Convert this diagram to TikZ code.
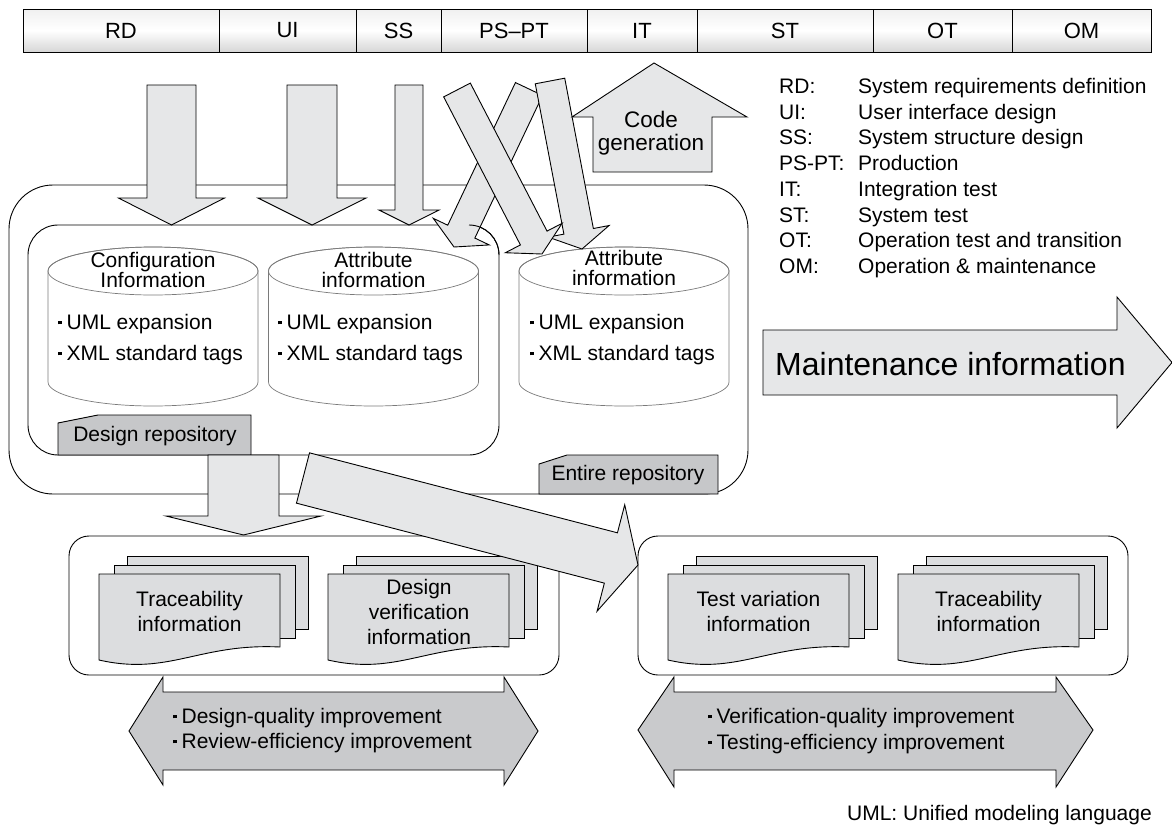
\documentclass[tikz,border=0pt]{standalone}
\usepackage{fontspec}
\setmainfont{Liberation Sans}
\usetikzlibrary{calc}
\definecolor{arrfill}{HTML}{E6E7E8}
\definecolor{docfill}{HTML}{DCDDDF}
\definecolor{tagfill}{HTML}{C6C7C9}
\definecolor{dblfill}{HTML}{C9CACC}
\definecolor{cylline}{HTML}{7A7A7A}
\newcommand{\fsz}[2]{\fontsize{#1}{#2}\selectfont}
\newcommand{\bul}{\raisebox{5pt}{\rule{3.4pt}{3.4pt}}\hspace{5pt}}
% fat block arrow: tail, tip, half shaft, half head, head length
\newcommand{\fatarrow}[5]{%
  \coordinate (#2-h) at ($(#2)!#5!(#1)$);
  \path[blk] ($(#1)!#3!90:(#2)$) -- ($(#2-h)!#3!90:(#2)$) -- ($(#2-h)!#4!90:(#2)$) -- (#2)
    -- ($(#2-h)!#4!-90:(#2)$) -- ($(#2-h)!#3!-90:(#2)$) -- ($(#1)!#3!-90:(#2)$) -- cycle;}
\newcommand{\cylshape}[2]{%
  \coordinate (#2) at (#1,271);
  \path[cyl] ($(#2)+(-105,0)$) -- ++(0,111)
     arc[start angle=180,end angle=360,x radius=105pt,y radius=24pt]
     -- ($(#2)+(105,0)$)
     arc[start angle=0,end angle=180,x radius=105pt,y radius=24pt] -- cycle;
  \draw[cylline,line width=0.7pt] (#2) ellipse[x radius=105pt,y radius=24pt];}
\newcommand{\docstack}[2]{%
  \draw[doc] (#1+28,556) rectangle (#1+209,629);
  \draw[doc] (#1+15,565) rectangle (#1+196,638);
  \draw[doc] (#1,574) -- (#1+181,574) -- (#1+181,647)
     .. controls (#1+100,643) and (#1+70,676) .. (#1,660) -- cycle;
  \coordinate (#2) at (#1+90.5,611);}
\begin{document}
\begin{tikzpicture}[x=1pt,y=-1pt,
  every node/.style={inner sep=0pt},
  blk/.style={draw=black,line width=0.9pt,fill=arrfill,line join=miter},
  cyl/.style={draw=cylline,line width=0.7pt,fill=white},
  doc/.style={draw=black,line width=0.9pt,fill=docfill},
  tag/.style={draw=black,line width=0.9pt,fill=tagfill},
  box/.style={draw=black,line width=0.9pt,rounded corners=20pt},
  cell/.style={draw=black,line width=0.9pt,top color=gray!12,bottom color=gray!32,middle color=white,minimum height=43pt,font=\fsz{22}{24}},
  txt/.style={font=\fsz{21}{25},text height=15pt,text depth=4.5pt},
  ctxt/.style={font=\fsz{21}{25},align=center},
  ctxttight/.style={font=\fsz{21}{20.5},align=center}]
\useasboundingbox (0,0) rectangle (1172,827);

% ---- top bar
\foreach \l/\r/\t/\n in {23/219/RD/rd,219/356/UI/ui,356/441/SS/ss,441/587/PS–PT/pspt,587/697/IT/it,697/873/ST/st,873/1012/OT/ot,1012/1151/OM/om}
  \node[cell,minimum width={(\r-\l)*1pt}] (\n) at ({(\l+\r)/2},30.5) {\t};

% ---- legend
\foreach \i/\a/\b in {0/RD:/System requirements definition,1/UI:/User interface design,2/SS:/System structure design,3/PS-PT:/Production,4/IT:/Integration test,5/ST:/System test,6/OT:/Operation test and transition,7/OM:/Operation \& maintenance}{
  \node[txt,anchor=west] (lg\i) at (779,{88.3+25.7*\i}) {\a};
  \node[txt,anchor=west] (ld\i) at (858,{88.3+25.7*\i}) {\b};}

% ---- repositories
\draw[line width=0.9pt,rounded corners=44pt] (9,185) rectangle (748,494);
\draw[line width=0.9pt,rounded corners=30pt] (28,225) rectangle (499,455);

\cylshape{153}{cylA}
\cylshape{373.5}{cylB}
\cylshape{624}{cylC}
\node[ctxttight] (cta) at (153,270) {Configuration\\Information};
\node[ctxttight] (ctb) at (373.5,270) {Attribute\\information};
\node[ctxttight] (ctc) at (624,268) {Attribute\\information};
\foreach \x/\n in {58/a,278/b,530/c}{
  \node[txt,anchor=west] (u\n) at (\x,324) {\bul UML expansion};
  \node[txt,anchor=west] (x\n) at (\x,355) {\bul XML standard tags};}

% tags
\draw[tag] (58,423) -- (98,415) -- (251,415) -- (251,455) -- (58,455) -- cycle;
\node[txt] (dtag) at (155,436) {Design repository};
\draw[tag] (539,464) -- (567,455) -- (718,455) -- (718,494) -- (539,494) -- cycle;
\node[txt] (etag) at (628,475) {Entire repository};

% ---- down arrows from phases
\coordinate (rdT) at (171.5,85);  \coordinate (rdH) at (171.5,225);
\coordinate (uiT) at (312,85);    \coordinate (uiH) at (312,225);
\coordinate (ssT) at (409,85);    \coordinate (ssH) at (409,225);
\fatarrow{rdT}{rdH}{24.5pt}{53pt}{27pt}
\fatarrow{uiT}{uiH}{25pt}{54pt}{27pt}
\fatarrow{ssT}{ssH}{14pt}{30pt}{15pt}

% ---- crossing arrows
\coordinate (bT) at (529,89);  \coordinate (bH) at (454,247);
\coordinate (cT) at (550,81);  \coordinate (cH) at (582,249);
\coordinate (aT) at (457,90);  \coordinate (aH) at (542,254);
\fatarrow{bT}{bH}{15pt}{31pt}{17pt}
\fatarrow{cT}{cH}{15pt}{31pt}{18pt}
\fatarrow{aT}{aH}{15pt}{32pt}{18pt}
\draw[line width=0.9pt] (469,225) arc[start angle=90,end angle=0,radius=30pt];

% ---- code generation arrow
\path[blk] (593,172) -- (593,117) -- (572,117) -- (654,63) -- (747,117) -- (712,117) -- (712,172) -- cycle;
\node[ctxt,font=\fsz{22.5}{23.5}] (code) at (651,133) {Code\\generation};

% ---- maintenance arrow
\coordinate (mT) at (763,362.5); \coordinate (mH) at (1172,362.5);
\fatarrow{mT}{mH}{32.5pt}{65.5pt}{55pt}
\node[anchor=west,font=\fsz{32}{36}] (maint) at (775,364) {Maintenance information};

% ---- bottom boxes
\draw[box] (69,536) rectangle (559,675);
\draw[box] (638,536) rectangle (1128,675);
\docstack{99}{d1}
\docstack{328}{d2}
\docstack{668}{d3}
\docstack{898}{d4}
\node[ctxt] (t1) at (d1) {Traceability\\information};
\node[ctxt] (t2) at (419,612) {Design\\verification\\information};
\node[ctxt] (t3) at (d3) {Test variation\\information};
\node[ctxt] (t4) at (d4) {Traceability\\information};

% ---- design repository -> design docs
\coordinate (drT) at (243.5,455); \coordinate (drH) at (243.5,535);
\fatarrow{drT}{drH}{35.5pt}{77.5pt}{19pt}

% ---- entire repository -> test docs
\coordinate (erT) at (303,478); \coordinate (erH) at (638,565);
\fatarrow{erT}{erH}{26pt}{55pt}{28pt}

% ---- double arrows
\draw[line width=0.9pt,fill=dblfill] (129,731) -- (163,677) -- (163,692) -- (504,692) -- (504,677) -- (538,731)
  -- (504,785) -- (504,770) -- (163,770) -- (163,785) -- cycle;
\node[txt,anchor=west] (q1) at (173,718) {\bul Design-quality improvement};
\node[txt,anchor=west] (q2) at (173,743) {\bul Review-efficiency improvement};
\draw[line width=0.9pt,fill=dblfill] (638,730) -- (674,677) -- (674,692) -- (1056,692) -- (1056,677) -- (1093,730)
  -- (1056,787) -- (1056,770) -- (674,770) -- (674,787) -- cycle;
\node[txt,anchor=west] (q3) at (708,718) {\bul Verification-quality improvement};
\node[txt,anchor=west] (q4) at (708,744) {\bul Testing-efficiency improvement};

% ---- footnote
\node[txt,anchor=east] (foot) at (1152,815) {UML: Unified modeling language};
\end{tikzpicture}
\end{document}
